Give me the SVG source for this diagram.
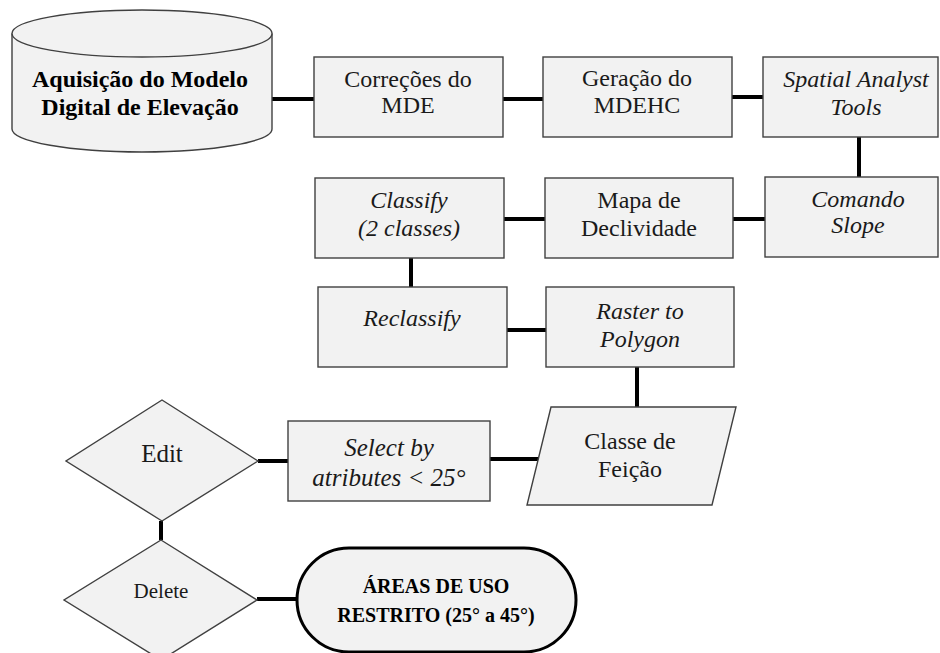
<svg xmlns="http://www.w3.org/2000/svg" width="940" height="653" viewBox="0 0 940 653">
<style>
.n{fill:#f2f2f2;stroke:#404040;stroke-width:1.4}
.t{font-family:"Liberation Serif","Times New Roman",serif;font-size:24px;fill:#1a1a1a;text-anchor:middle}
.i{font-style:italic}
.b{font-weight:bold;fill:#000}
.c{stroke:#000;stroke-width:4;fill:none}
</style>
<rect width="940" height="653" fill="#fff"/>
<g id="connectors">
<line class="c" x1="272" y1="99" x2="314" y2="99"/>
<line class="c" x1="503" y1="99" x2="543" y2="99"/>
<line class="c" x1="732" y1="97" x2="763" y2="97"/>
<line class="c" x1="859" y1="137" x2="859" y2="177"/>
<line class="c" x1="733" y1="219" x2="765" y2="219"/>
<line class="c" x1="504" y1="219" x2="545" y2="219"/>
<line class="c" x1="411" y1="258" x2="411" y2="287"/>
<line class="c" x1="507" y1="330" x2="546" y2="330"/>
<line class="c" x1="637" y1="367" x2="637" y2="407"/>
<line class="c" x1="490" y1="459" x2="540" y2="459"/>
<line class="c" x1="258" y1="461" x2="288" y2="461"/>
<line class="c" x1="161" y1="521" x2="161" y2="540"/>
<line class="c" x1="257" y1="599" x2="297" y2="599"/>
</g>
<g id="aquisicao">
<path class="n" d="M12,33.5 L12,129 A130,23 0 0 0 272,129 L272,33.5"/>
<ellipse class="n" cx="142" cy="33.5" rx="130" ry="23.5"/>
<text class="t b" x="140" y="87">Aquisição do Modelo</text>
<text class="t b" x="140" y="115">Digital de Elevação</text>
</g>
<g id="correcoes">
<rect class="n" x="314" y="57" width="189" height="80"/>
<text class="t" x="408" y="87">Correções do</text>
<text class="t" x="408" y="113">MDE</text>
</g>
<g id="geracao">
<rect class="n" x="543" y="57" width="189" height="80"/>
<text class="t" x="637" y="86">Geração do</text>
<text class="t" x="637" y="113">MDEHC</text>
</g>
<g id="spatial">
<rect class="n" x="763" y="57" width="175" height="80"/>
<text class="t i" x="856" y="87">Spatial Analyst</text>
<text class="t i" x="856" y="115">Tools</text>
</g>
<g id="comando">
<rect class="n" x="765" y="177" width="173" height="80"/>
<text class="t i" x="858" y="207">Comando</text>
<text class="t i" x="858" y="233">Slope</text>
</g>
<g id="mapa">
<rect class="n" x="545" y="178" width="188" height="80"/>
<text class="t" x="639" y="208">Mapa de</text>
<text class="t" x="639" y="236">Declividade</text>
</g>
<g id="classify">
<rect class="n" x="315" y="178" width="189" height="80"/>
<text class="t i" x="409" y="208">Classify</text>
<text class="t i" x="409" y="236">(2 classes)</text>
</g>
<g id="reclassify">
<rect class="n" x="318" y="287" width="189" height="80"/>
<text class="t i" x="412" y="326">Reclassify</text>
</g>
<g id="raster">
<rect class="n" x="546" y="287" width="188" height="80"/>
<text class="t i" x="640" y="319">Raster to</text>
<text class="t i" x="640" y="347">Polygon</text>
</g>
<g id="classe">
<polygon class="n" points="551,407 736,407 712,505 527,505"/>
<text class="t" x="630" y="449">Classe de</text>
<text class="t" x="630" y="477">Feição</text>
</g>
<g id="select">
<rect class="n" x="288" y="421" width="202" height="80"/>
<text class="t i" x="389" y="456" style="font-size:25px">Select by</text>
<text class="t i" x="389" y="486" style="font-size:25px">atributes &lt; 25°</text>
</g>
<g id="edit">
<polygon class="n" points="162,400 258,461 162,521 66,461"/>
<text class="t" x="162" y="462" style="font-size:25px">Edit</text>
</g>
<g id="delete">
<polygon class="n" points="161,540 257,600 161,660 64,600"/>
<text class="t" x="161" y="598" style="font-size:21px">Delete</text>
</g>
<g id="areas">
<rect x="297" y="548" width="279" height="104" rx="52" ry="52" fill="#f2f2f2" stroke="#000" stroke-width="3"/>
<text class="t b" x="436" y="593" style="font-size:20px">ÁREAS DE USO</text>
<text class="t b" x="436" y="622" style="font-size:20px">RESTRITO (25° a 45°)</text>
</g>
</svg>
